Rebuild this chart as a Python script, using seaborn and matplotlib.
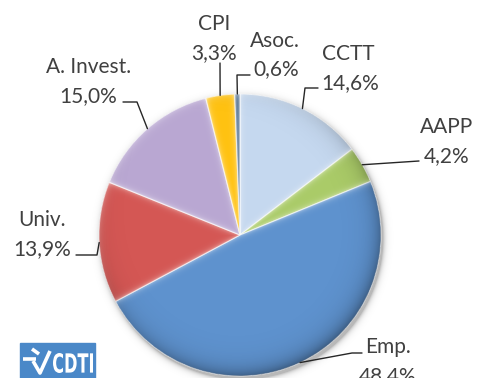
import numpy as np
import matplotlib
matplotlib.use("Agg")
import matplotlib.pyplot as plt
import seaborn as sns
from matplotlib.patches import Circle, Rectangle, PathPatch
from matplotlib.textpath import TextPath
from matplotlib.font_manager import FontProperties
from matplotlib.transforms import Affine2D

# Share of participation by type of entity (%)
categories = ["CCTT", "AAPP", "Emp.", "Univ.", "A. Invest.", "CPI", "Asoc."]
shares = [14.6, 4.2, 48.4, 13.9, 15.0, 3.3, 0.6]

slice_colors = ["#C5D8EF", "#AACB68", "#5E92CE", "#D45754", "#B9A7D2", "#FFC211", "#4E6E8E"]

# Label placement in pixel coordinates (y grows downwards): baseline anchors
name_pos = [(348, 60), (447, 133), (388, 353), (42, 226), (89, 73), (214, 30), (275, 47)]
value_pos = [(350, 89), (447, 162), (388, 382), (42, 255), (88, 102), (214, 59), (276, 75)]
# Leader elbows from the slice rim towards each label
leader_path = [
    [(305, 88), (318, 88)],
    [(419, 161)],
    [(352, 353), (362, 353)],
    [(97, 255), (76, 255)],
    [(137, 102), (123, 102)],
    [(220, 63)],
    [(237, 75), (250, 75)],
]

W, H = 479, 378
CX, CY, R = 240, 235, 141
TEXT = "#404040"
FS = 15

sns.set_theme(style="white")
plt.rcParams["font.family"] = ["Lato", "DejaVu Sans"]

fig = plt.figure(figsize=(W / 100, H / 100), dpi=100)
ax = fig.add_axes([0, 0, 1, 1])

# y axis runs downwards, so counterclock=True in data space draws clockwise on screen
wedges, _ = ax.pie(shares, colors=slice_colors, startangle=-90, counterclock=True,
                   center=(CX, CY), radius=R,
                   wedgeprops=dict(linewidth=0.8, edgecolor=(1, 1, 1, 0.55)))
for w in wedges:
    w.set_zorder(2)

# --- bevel-like shading over the pie ---
yy, xx = np.mgrid[0:H, 0:W] + 0.5
dx, dy = xx - CX, yy - CY
rr = np.hypot(dx, dy) + 1e-9
th = np.degrees(np.arctan2(dy, dx))
d_edge = np.full_like(rr, np.inf)
for w in wedges:
    delta = np.radians(th - w.theta1)
    d = np.where(np.cos(delta) > 0, rr * np.abs(np.sin(delta)), rr)
    d_edge = np.minimum(d_edge, d)
d_rim = R - rr
ux, uy = dx / rr, dy / rr
facing = ux * (-0.6) + uy * (-0.8)

dark = 0.38 * np.exp(-np.clip(d_rim, 0, None) / 9) * np.clip(0.5 - 0.5 * facing, 0, 1)
light = 0.45 * np.exp(-np.clip(d_edge, 0, None) / 2.2) + \
        0.35 * np.exp(-np.clip(d_rim, 0, None) / 3) * np.clip(facing, 0, 1)
light = np.clip(light, 0, 0.6)

clip = Circle((CX, CY), R, transform=ax.transData)
dark_img = np.zeros((H, W, 4)); dark_img[..., 3] = dark
light_img = np.ones((H, W, 4)); light_img[..., 3] = light
for img in (dark_img, light_img):
    im = ax.imshow(img, extent=(0, W, H, 0), origin="upper", zorder=3, interpolation="bilinear")
    im.set_clip_path(clip)

# soft shadow under the pie
rs = np.hypot(xx - CX - 2, yy - CY - 3)
shadow = np.where(rr > R, 0.28 * np.exp(-np.clip(rs - R, 0, None) / 2.5), 0)
sh_img = np.zeros((H, W, 4)); sh_img[..., 3] = shadow
ax.imshow(sh_img, extent=(0, W, H, 0), origin="upper", zorder=1, interpolation="bilinear")

# --- labels and leader lines ---
for w, name, val, npos, vpos, path in zip(wedges, categories, shares, name_pos, value_pos, leader_path):
    mid = np.radians((w.theta1 + w.theta2) / 2)
    pts = [(CX + R * np.cos(mid), CY + R * np.sin(mid))] + path
    ax.plot([p[0] for p in pts], [p[1] for p in pts], color="#262626", lw=1.0, zorder=4)
    ax.text(*npos, name, ha="center", va="baseline", fontsize=FS, color=TEXT, zorder=5)
    ax.text(*vpos, f"{val:.1f}".replace(".", ",") + "%", ha="center", va="baseline",
            fontsize=FS, color=TEXT, zorder=5)

# --- CDTI logo ---
ax.add_patch(Rectangle((20, 343), 75, 35, color="#4A88C8", zorder=5))
tp = TextPath((0, 0), "CDTI", size=10, prop=FontProperties(family="DejaVu Sans", weight="bold"))
ext = tp.get_extents()
tr = Affine2D().translate(-ext.x0, -ext.y0).scale(40 / ext.width, -20 / ext.height).translate(53, 373)
ax.add_patch(PathPatch(tr.transform_path(tp), fc="white", lw=0, zorder=6))
for xs, ys in (([23, 36], [359, 359]), ([33, 40, 50], [361, 373, 351]), ([32, 39], [349, 354])):
    ax.plot(xs, ys, color="white", lw=2.6, solid_capstyle="butt", zorder=6)

ax.set_xlim(0, W)
ax.set_ylim(H, 0)
ax.set_aspect("equal")
ax.axis("off")

fig.savefig("out.png", dpi=100)
